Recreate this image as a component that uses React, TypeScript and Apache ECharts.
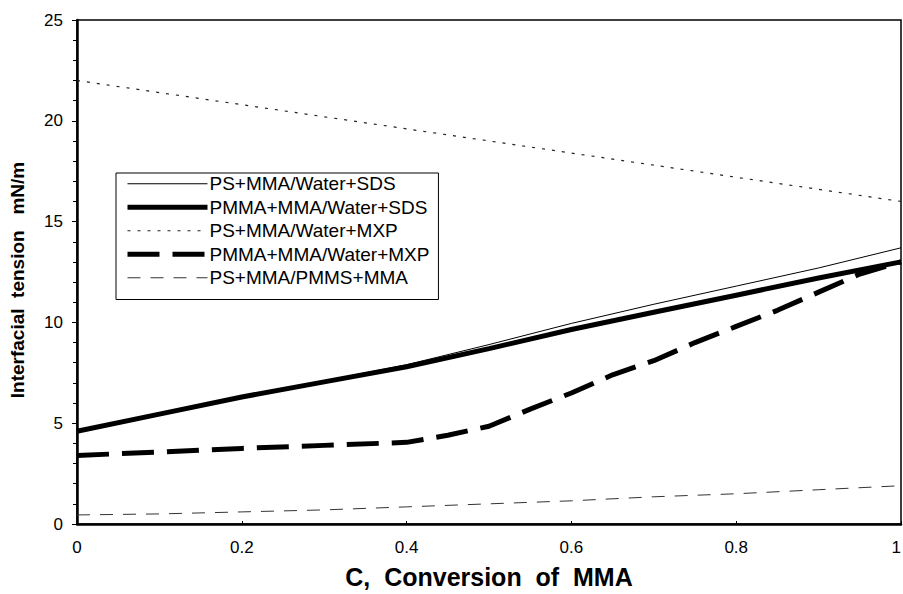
import React, { useEffect, useRef } from "react";
import * as echarts from "echarts";

// Conversion grid (x) shared by most series
const conversion = [0, 0.1, 0.2, 0.3, 0.4, 0.5, 0.6, 0.7, 0.8, 0.9, 1.0];

const psWaterSDS = [4.6, 5.45, 6.3, 7.1, 7.9, 8.9, 9.95, 10.9, 11.8, 12.7, 13.7];
const pmmaWaterSDS = [4.6, 5.45, 6.3, 7.05, 7.8, 8.7, 9.65, 10.5, 11.35, 12.2, 13.0];
const psWaterMXP = [22.0, 21.4, 20.8, 20.2, 19.6, 19.0, 18.4, 17.8, 17.2, 16.6, 16.0];
const psPMMS = [0.45, 0.5, 0.6, 0.7, 0.85, 1.0, 1.15, 1.35, 1.5, 1.7, 1.9];

// PMMA+MMA/Water+MXP has its own, finer sampling
const conversionMXP = [0, 0.1, 0.2, 0.3, 0.4, 0.45, 0.5, 0.55, 0.6, 0.65, 0.7, 0.75, 0.8, 0.85, 0.9, 0.95, 1.0];
const pmmaWaterMXP = [3.4, 3.57, 3.75, 3.9, 4.05, 4.4, 4.85, 5.7, 6.5, 7.4, 8.1, 9.0, 9.8, 10.6, 11.5, 12.4, 13.0];

const seriesNames = [
  "PS+MMA/Water+SDS",
  "PMMA+MMA/Water+SDS",
  "PS+MMA/Water+MXP",
  "PMMA+MMA/Water+MXP",
  "PS+MMA/PMMS+MMA",
];

const xTicks = [0, 0.2, 0.4, 0.6, 0.8, 1];

const zip = (xs: number[], ys: number[]) => xs.map((x, i) => [x, ys[i]]);

const FONT = "'Liberation Sans', Arial, Helvetica, sans-serif";

const styles = [
  { color: "#000", width: 1, type: "solid" as any },
  { color: "#000", width: 5, type: "solid" as any },
  { color: "#222", width: 1.2, type: [3, 7] as any },
  { color: "#000", width: 5, type: [32, 13] as any },
  { color: "#333", width: 1, type: [13, 10] as any },
];

export default function App() {
  const ref = useRef<HTMLDivElement>(null);
  useEffect(() => {
    if (!ref.current) return;
    const chart = echarts.init(ref.current, undefined, { renderer: "svg" });
    const dataSets = [
      zip(conversion, psWaterSDS),
      zip(conversion, pmmaWaterSDS),
      zip(conversion, psWaterMXP),
      zip(conversionMXP, pmmaWaterMXP),
      zip(conversion, psPMMS),
    ];
    chart.setOption({
      animation: false,
      backgroundColor: "#fff",
      textStyle: { fontFamily: FONT, color: "#000" },
      grid: {
        left: 77,
        right: 2,
        top: 20,
        bottom: 70,
        outerBoundsMode: "none",
        containLabel: false,
        show: true,
        borderColor: "#000",
        borderWidth: 1.5,
        backgroundColor: "transparent",
      },
      legend: {
        orient: "vertical",
        left: 116,
        top: 173,
        data: seriesNames.map((n, i) => ({
          name: n,
          itemStyle: { opacity: 0, borderWidth: 0 },
          lineStyle: { ...styles[i], opacity: 1 },
        })),
        itemWidth: 80,
        itemHeight: 14,
        itemGap: 4,
        padding: [1, 9, 12, 9],
        borderColor: "#000",
        borderWidth: 1,
        backgroundColor: "#fff",
        selectedMode: false,
        textStyle: { fontFamily: FONT, fontSize: 19, lineHeight: 19.5, color: "#000", padding: [0, 0, 0, -3] },
      },
      xAxis: {
        type: "value",
        min: 0,
        max: 1,
        interval: 0.2,
        name: "C,  Conversion  of  MMA",
        nameLocation: "middle",
        nameGap: 40,
        nameTextStyle: { fontFamily: FONT, fontSize: 25, fontWeight: "bold", color: "#000" },
        axisLine: { show: true, lineStyle: { color: "#000", width: 2.5 } },
        axisTick: { show: true, inside: true, length: 3, lineStyle: { color: "#000" } },
        axisLabel: {
          fontFamily: FONT,
          fontSize: 17,
          color: "#000",
          margin: 15,
          alignMaxLabel: "right",
          formatter: (v: number) => (xTicks.includes(Math.round(v * 10) / 10) ? String(Math.round(v * 10) / 10) : ""),
        },
        splitLine: { show: false },
      },
      yAxis: {
        type: "value",
        min: 0,
        max: 25,
        interval: 5,
        name: "Interfacial  tension   mN/m",
        nameLocation: "middle",
        nameGap: 50,
        nameTextStyle: {
          fontFamily: FONT,
          fontSize: 19,
          fontWeight: "bold",
          color: "#000",
          padding: [0, 16, 0, 0],
        },
        axisLine: { show: true, lineStyle: { color: "#000", width: 2.5 } },
        axisTick: { show: true, inside: false, length: 5, lineStyle: { color: "#000" } },
        minorTick: { show: true, splitNumber: 5, length: 4, lineStyle: { color: "#000" } },
        axisLabel: { fontFamily: FONT, fontSize: 17, color: "#000", margin: 14 },
        splitLine: { show: false },
        minorSplitLine: { show: false },
      },
      series: seriesNames.map((n, i) => ({
        name: n,
        type: "line",
        data: dataSets[i],
        symbol: "none",
        lineStyle: styles[i],
        itemStyle: { color: styles[i].color },
        z: i === 0 ? 5 : i === 1 ? 4 : 3,
      })),
    });
    return () => chart.dispose();
  }, []);
  return (
    <div
      ref={ref}
      style={{ position: "fixed", left: 0, top: 0, width: 903, height: 594, background: "#fff" }}
    />
  );
}
